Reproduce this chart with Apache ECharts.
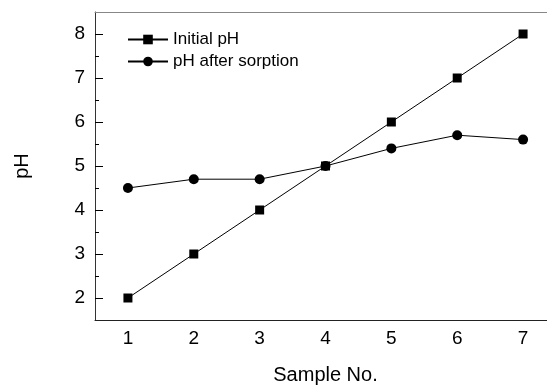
<!DOCTYPE html>
<html>
<head>
<meta charset="utf-8">
<script src="https://cdn.jsdelivr.net/npm/echarts@6/dist/echarts.min.js"></script>
<style>
  html, body { margin: 0; padding: 0; background: #fff; }
  #chart { width: 547px; height: 387px; }
</style>
</head>
<body>
<div id="chart"></div>
<script>
// sample numbers on the x axis
var samples = ['1', '2', '3', '4', '5', '6', '7'];
// pH values
var initialPH = [2, 3, 4, 5, 6, 7, 8];
var afterSorption = [4.5, 4.7, 4.7, 5.0, 5.4, 5.7, 5.6];
// y axis ticks
var yMajorTicks = [2, 3, 4, 5, 6, 7, 8];
var yMinorTicks = [2.5, 3.5, 4.5, 5.5, 6.5, 7.5];

var font = 'Liberation Sans, Arial, sans-serif';

function drawChart() {
    var chart = echarts.init(document.getElementById('chart'));
    var option = {
        animation: false,
        backgroundColor: '#fff',
        textStyle: { fontFamily: font },
        grid: {
            left: 95,
            right: -9,
            top: 12,
            bottom: 67,
            outerBoundsMode: 'none'
        },
        legend: {
            left: 122,
            top: 26,
            orient: 'vertical',
            itemWidth: 40,
            itemHeight: 12,
            itemGap: 5,
            textStyle: { fontSize: 17, color: '#000', fontFamily: font },
            data: ['Initial pH', 'pH after sorption']
        },
        xAxis: [
            {
                type: 'category',
                data: samples,
                boundaryGap: true,
                name: 'Sample No.',
                nameLocation: 'middle',
                nameGap: 45,
                nameTextStyle: { fontSize: 20, color: '#000', fontFamily: font },
                axisLine: { lineStyle: { color: '#222', width: 1 } },
                axisTick: { inside: true, length: 10, alignWithLabel: true, lineStyle: { color: '#000' } },
                axisLabel: { fontSize: 19, color: '#000', margin: 9, fontFamily: font },
                splitLine: { show: false }
            },
            {
                type: 'category',
                data: samples,
                position: 'top',
                axisLine: { lineStyle: { color: '#888', width: 1 } },
                axisTick: { show: false },
                axisLabel: { show: false },
                splitLine: { show: false }
            }
        ],
        yAxis: [
            {
                type: 'value',
                min: 1.5,
                max: 8.5,
                name: 'pH',
                nameLocation: 'middle',
                nameGap: 63,
                nameRotate: 90,
                nameTextStyle: { fontSize: 20, color: '#000', fontFamily: font },
                axisLine: { show: true, lineStyle: { color: '#333', width: 1 } },
                axisTick: { show: true, inside: true, length: 8, customValues: yMajorTicks, lineStyle: { color: '#000' } },
                axisLabel: { fontSize: 19, color: '#000', margin: 10, customValues: yMajorTicks, fontFamily: font },
                splitLine: { show: false }
            },
            {
                type: 'value',
                min: 1.5,
                max: 8.5,
                position: 'left',
                axisLine: { show: false },
                axisTick: { show: true, inside: true, length: 4, customValues: yMinorTicks, lineStyle: { color: '#000' } },
                axisLabel: { show: false },
                splitLine: { show: false }
            }
        ],
        series: [
            {
                name: 'Initial pH',
                type: 'line',
                data: initialPH,
                symbol: 'rect',
                symbolSize: 9,
                itemStyle: { color: '#000' },
                lineStyle: { color: '#000', width: 1 }
            },
            {
                name: 'pH after sorption',
                type: 'line',
                data: afterSorption,
                symbol: 'circle',
                symbolSize: 10,
                itemStyle: { color: '#000' },
                lineStyle: { color: '#000', width: 1 }
            }
        ]
    };
    chart.setOption(option);
}

drawChart();
</script>
</body>
</html>
